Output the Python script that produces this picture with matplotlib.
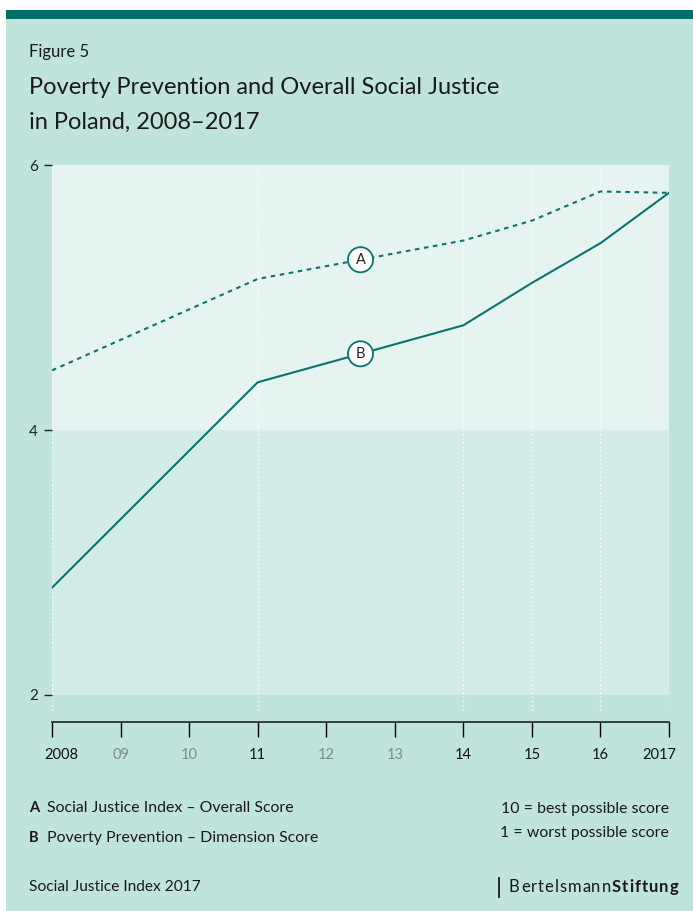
import numpy as np
import matplotlib.pyplot as plt
import matplotlib.transforms as mtransforms
from matplotlib.patches import Rectangle

# data
years_a = [2008, 2011, 2014, 2015, 2016, 2017]
overall = [4.45, 5.14, 5.43, 5.58, 5.80, 5.79]
years_b = [2008, 2011, 2014, 2015, 2016, 2017]
poverty = [2.81, 4.36, 4.79, 5.11, 5.41, 5.79]
tick_years = list(range(2008, 2018))
tick_labels = ["2008", "09", "10", "11", "12", "13", "14", "15", "16", "2017"]
major_years = [2008, 2011, 2014, 2015, 2016, 2017]

BG = "#c0e3dc"
BAR = "#00706a"
LINE = "#0b7470"
plt.rcParams["font.family"] = ["Lato", "DejaVu Sans"]

W, H = 693, 911
fig = plt.figure(figsize=(W / 100, H / 100), dpi=100)
fig.patch.set_facecolor("white")


def fx(px):
    return px / W


def fy(py):
    return 1 - py / H


fig.patches.append(Rectangle((fx(6), 0), 1, fy(10), transform=fig.transFigure,
                             fc=BG, ec="none", zorder=-2))
fig.patches.append(Rectangle((fx(6), fy(19)), 1, 9 / H, transform=fig.transFigure,
                             fc=BAR, ec="none", zorder=-1))

# axes: x 52..669 px, y 165 (value 6) .. 722 (axis line)
ax = fig.add_axes([fx(52), fy(722), (669 - 52) / W, (722 - 165) / H])
ax.set_facecolor("none")
ax.set_xlim(2008, 2017)
ax.set_ylim(6 - (722 - 165) / 132.5, 6)

ax.axhspan(4, 6, color="#e6f4f1", lw=0, zorder=0)
ax.axhspan(2, 4, color="#d4ece7", lw=0, zorder=0)
ax.vlines(major_years, 1.89, 6, colors="white", linestyles=(0, (1, 2)), lw=1, zorder=1)

ax.plot(years_a, overall, color=LINE, lw=1.5, ls=(0, (2.2, 2.2)), zorder=3)
ax.plot(years_b, poverty, color=LINE, lw=1.5, zorder=3)

for lab, ys, vals in [("A", years_a, overall), ("B", years_b, poverty)]:
    ax.text(2012.5, np.interp(2012.5, ys, vals), lab, ha="center", va="center",
            fontsize=10.5, color="#222222", zorder=5,
            bbox=dict(boxstyle="circle,pad=0.38", fc="white", ec=LINE, lw=1.3))

for s in ["top", "right", "left"]:
    ax.spines[s].set_visible(False)
ax.spines["bottom"].set_color("#222222")
ax.spines["bottom"].set_linewidth(1.2)

ax.set_xticks(tick_years)
ax.set_xticklabels(tick_labels)
ax.tick_params(axis="x", length=11, width=1, pad=8, labelsize=10.5)
for y, t, lab in zip(tick_years, ax.xaxis.get_major_ticks(), ax.get_xticklabels()):
    if y in major_years:
        t.tick1line.set_color("#222222")
        lab.set_color("#111111")
    else:
        t.tick1line.set_color("#8a9a97")
        lab.set_color("#7d8c89")
# end labels sit inside the axis ends
labs = ax.get_xticklabels()
labs[0].set_transform(labs[0].get_transform() + mtransforms.ScaledTranslation(9 / 100, 0, fig.dpi_scale_trans))
labs[-1].set_transform(labs[-1].get_transform() + mtransforms.ScaledTranslation(-10 / 100, 0, fig.dpi_scale_trans))

ax.set_yticks([2, 4, 6])
ax.set_yticklabels(["2", "4", "6"])
ax.tick_params(axis="y", length=6, width=1, pad=4, labelsize=11, colors="#222222")

# texts
fig.text(fx(29), fy(52), "Figure 5", fontsize=12, color="#1a1a1a", va="center")
fig.text(fx(29), fy(88), "Poverty Prevention and Overall Social Justice", fontsize=17,
         color="#1a1a1a", va="center")
fig.text(fx(29), fy(122), "in Poland, 2008\u20132017", fontsize=17, color="#1a1a1a", va="center")

fig.text(fx(29), fy(808), "A", fontsize=10.5, fontweight="bold", color="#1a1a1a", va="center")
fig.text(fx(47), fy(808), "Social Justice Index \u2013 Overall Score", fontsize=11.4,
         color="#1a1a1a", va="center")
fig.text(fx(29), fy(838), "B", fontsize=10.5, fontweight="bold", color="#1a1a1a", va="center")
fig.text(fx(47), fy(838), "Poverty Prevention \u2013 Dimension Score", fontsize=11.4,
         color="#1a1a1a", va="center")
fig.text(fx(669), fy(809), "10 = best possible score", fontsize=11.4, color="#1a1a1a",
         va="center", ha="right")
fig.text(fx(669), fy(833), "1 = worst possible score", fontsize=11.4, color="#1a1a1a",
         va="center", ha="right")
fig.text(fx(29), fy(887), "Social Justice Index 2017", fontsize=11.2, color="#1a1a1a", va="center")

# logo text, letter-spaced
fig.lines.append(plt.Line2D([fx(499), fx(499)], [fy(878), fy(897)], transform=fig.transFigure,
                            color="#1a1a1a", lw=1.3))
r = fig.canvas.get_renderer()
xpos = 509
for word, weight in [("Bertelsmann", "normal"), ("Stiftung", "bold")]:
    for ch in word:
        t = fig.text(fx(xpos), fy(887), ch, fontsize=12, fontweight=weight,
                     color="#1a1a1a", va="center")
        xpos = t.get_window_extent(r).x1 + 1.0

fig.savefig("out.png", dpi=100, facecolor=fig.get_facecolor())
